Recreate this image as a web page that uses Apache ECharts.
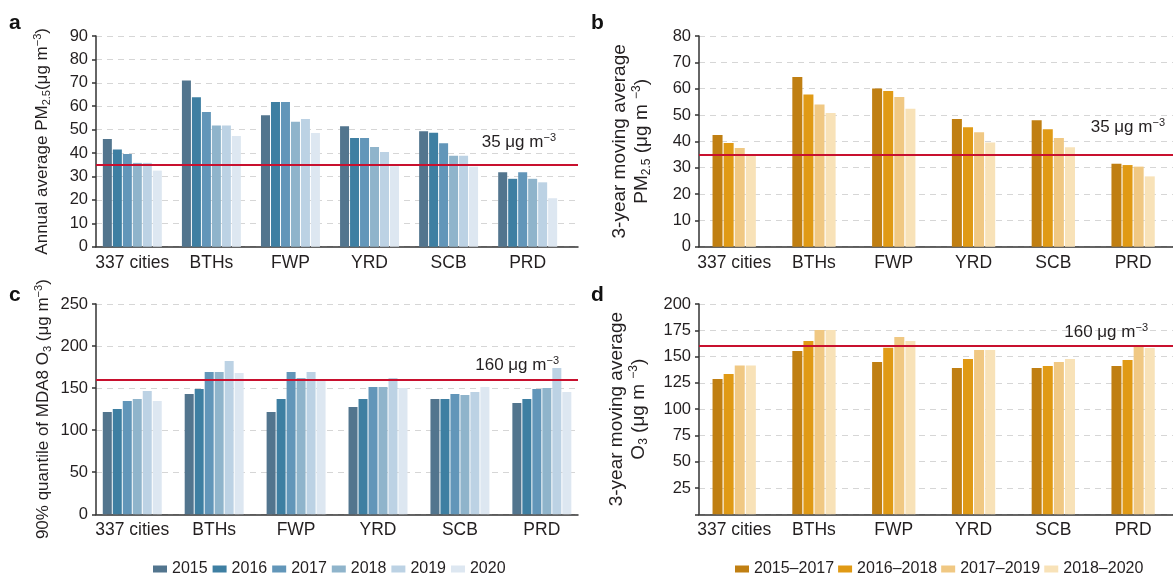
<!DOCTYPE html>
<html>
<head>
<meta charset="utf-8">
<script src="https://cdn.jsdelivr.net/npm/echarts@6/dist/echarts.min.js"></script>
<style>
html,body{margin:0;padding:0;background:#fff;}
#chart{width:1173px;height:575px;}
</style>
</head>
<body>
<div id="chart"></div>
<script>
// ---------- data ----------
const categories = ['337 cities', 'BTHs', 'FWP', 'YRD', 'SCB', 'PRD'];
const years = ['2015', '2016', '2017', '2018', '2019', '2020'];
const periods = ['2015–2017', '2016–2018', '2017–2019', '2018–2020'];

// Panel a: annual average PM2.5 (per year, per region)
const pmAnnual2015 = [46.0, 71.0, 56.1, 51.4, 49.3, 31.8];
const pmAnnual2016 = [41.5, 63.8, 61.8, 46.4, 48.7, 29.0];
const pmAnnual2017 = [39.6, 57.5, 61.8, 46.4, 44.2, 31.8];
const pmAnnual2018 = [35.8, 51.8, 53.4, 42.6, 38.9, 29.0];
const pmAnnual2019 = [35.8, 51.8, 54.5, 40.4, 38.9, 27.5];
const pmAnnual2020 = [32.5, 47.3, 48.6, 34.4, 34.2, 20.7];

// Panel b: 3-year moving average PM2.5
const pmMoving1517 = [42.4, 64.4, 60.1, 48.5, 48.0, 31.5];
const pmMoving1618 = [39.4, 57.8, 59.1, 45.4, 44.6, 31.0];
const pmMoving1719 = [37.5, 54.0, 56.8, 43.5, 41.3, 30.4];
const pmMoving1820 = [35.2, 50.8, 52.4, 39.6, 37.8, 26.7];

// Panel c: 90% quantile of MDA8 O3
const o3Annual2015 = [121.6, 143.0, 121.6, 127.6, 137.1, 132.3];
const o3Annual2016 = [125.2, 149.0, 137.1, 137.1, 137.1, 137.1];
const o3Annual2017 = [134.7, 169.2, 169.2, 151.3, 143.0, 149.0];
const o3Annual2018 = [137.1, 169.2, 162.0, 151.3, 141.8, 150.2];
const o3Annual2019 = [146.6, 182.3, 169.2, 162.0, 145.4, 174.0];
const o3Annual2020 = [134.7, 168.0, 159.7, 150.2, 151.3, 145.4];

// Panel d: 3-year moving average O3
const o3Moving1517 = [128.7, 155.3, 144.8, 139.1, 139.1, 141.0];
const o3Moving1618 = [133.4, 164.8, 158.5, 147.7, 141.0, 146.8];
const o3Moving1719 = [141.4, 175.3, 168.6, 156.3, 144.8, 160.0];
const o3Moving1820 = [141.4, 175.3, 164.8, 156.3, 147.7, 158.2];

const pmLimit = 35;
const o3Limit = 160;

// ---------- styles ----------
const FONT = 'Liberation Sans, Arial, Helvetica, sans-serif';
const TXT = '#231f20';
const blues = ['#52758e', '#3e7fa2', '#6296b9', '#8fb4cb', '#bcd2e4', '#dde7f1'];
const oranges = ['#c07f12', '#e09a15', '#f0c883', '#f8e2b8'];
const RED = '#c8102e';

function richName(size) {
  return {
    n: {fontSize: size, fontFamily: FONT, color: TXT, align: 'center', lineHeight: size + 3},
    sub: {fontSize: Math.round(size * 0.62), fontFamily: FONT, color: TXT, verticalAlign: 'bottom', lineHeight: size - 2},
    sup: {fontSize: Math.round(size * 0.62), fontFamily: FONT, color: TXT, verticalAlign: 'top', lineHeight: size + 3}
  };
}

const panels = [
  {gridA: {left: 96, right: 595, top: 36, bottom: 328.3}, gridB: {left: 92.8, right: 605.8, top: 36, bottom: 328.3},
   min: 0, max: 90, interval: 10, hideZero: false,
   name: '{n|Annual average PM}{sub|2.5}{n|(μg m}{sup|−3}{n|)}', nameSize: 17, nameGap: 44,
   names: years, colors: blues, values: [pmAnnual2015, pmAnnual2016, pmAnnual2017, pmAnnual2018, pmAnnual2019, pmAnnual2020],
   barWidth: 9, limit: pmLimit, limitDist: [22, 12]},
  {gridA: {left: 699, right: 0, top: 36, bottom: 328.3}, gridB: {left: 694.3, right: -7, top: 36, bottom: 328.3},
   min: 0, max: 80, interval: 10, hideZero: false,
   name: '{n|3-year moving average}\n{n|PM}{sub|2.5}{n| (μg m }{sup|−3}{n|)}', nameSize: 19, nameGap: 46,
   names: periods, colors: oranges, values: [pmMoving1517, pmMoving1618, pmMoving1719, pmMoving1820],
   barWidth: 10, limit: pmLimit, limitDist: [8, 17]},
  {gridA: {left: 96, right: 595, top: 304, bottom: 60.7}, gridB: {left: 91.3, right: 590.2, top: 304, bottom: 60.7},
   min: 0, max: 250, interval: 50, hideZero: false,
   name: '{n|90% quantile of MDA8 O}{sub|3}{n| (μg m}{sup|−3}{n|)}', nameSize: 17, nameGap: 43,
   names: years, colors: blues, values: [o3Annual2015, o3Annual2016, o3Annual2017, o3Annual2018, o3Annual2019, o3Annual2020],
   barWidth: 9, limit: o3Limit, limitDist: [19, 4]},
  {gridA: {left: 699, right: 0, top: 304, bottom: 60.7}, gridB: {left: 694.3, right: -11.7, top: 304, bottom: 60.7},
   min: 0, max: 200, interval: 25, hideZero: true,
   name: '{n|3-year moving average}\n{n|O}{sub|3}{n| (μg m }{sup|−3}{n|)}', nameSize: 19, nameGap: 49,
   names: periods, colors: oranges, values: [o3Moving1517, o3Moving1618, o3Moving1719, o3Moving1820],
   barWidth: 10, limit: o3Limit, limitDist: [25, 4]}
];

const grid = [], xAxis = [], yAxis = [], series = [];
panels.forEach((p, i) => {
  const ga = grid.length;
  grid.push(p.gridA);
  grid.push(p.gridB);
  // axis grid
  xAxis.push({gridIndex: ga, type: 'value', min: 0, max: 1,
    axisLine: {show: true, lineStyle: {color: '#333', width: 1.5}},
    axisTick: {show: false}, axisLabel: {show: false}, splitLine: {show: false}});
  yAxis.push({gridIndex: ga, type: 'value', min: p.min, max: p.max, interval: p.interval,
    axisLine: {show: true, lineStyle: {color: '#333', width: 1.5}},
    axisTick: {show: true, length: 4, lineStyle: {color: '#333', width: 1.5}},
    axisLabel: {fontSize: 16.5, fontFamily: FONT, color: TXT, margin: 8,
      formatter: v => (p.hideZero && v === 0) ? '' : String(v)},
    splitLine: {show: true, lineStyle: {color: '#d6d6d6', width: 1, type: [6, 5]}},
    name: p.name, nameLocation: 'middle', nameRotate: 90, nameGap: p.nameGap,
    nameTextStyle: {rich: richName(p.nameSize), fontFamily: FONT, fontSize: p.nameSize, color: TXT}});
  // bar grid
  xAxis.push({gridIndex: ga + 1, type: 'category', data: categories, boundaryGap: true,
    axisLine: {show: false}, axisTick: {show: false},
    axisLabel: {fontSize: 17.5, fontFamily: FONT, color: TXT, margin: 7, interval: 0}});
  yAxis.push({gridIndex: ga + 1, type: 'value', min: p.min, max: p.max, interval: p.interval, show: false});

  p.values.forEach((vals, k) => {
    series.push({type: 'bar', name: p.names[k], xAxisIndex: ga + 1, yAxisIndex: ga + 1,
      data: vals, barWidth: p.barWidth, barGap: '11%',
      itemStyle: {color: p.colors[k]}, z: 2});
  });
  series.push({type: 'line', xAxisIndex: ga, yAxisIndex: ga, data: [], z: 10,
    markLine: {silent: true, symbol: 'none', animation: false,
      lineStyle: {color: RED, width: 2, type: 'solid'},
      label: {show: true, position: 'insideEndTop', distance: p.limitDist,
        formatter: '{n|' + p.limit + ' μg m}{sup|−3}',
        rich: {n: {fontSize: 17, fontFamily: FONT, color: TXT},
               sup: {fontSize: 11, fontFamily: FONT, color: TXT, verticalAlign: 'top', lineHeight: 20}}},
      data: [{yAxis: p.limit}]}});
});

const letterStyle = {font: 'bold 21px ' + FONT, fill: '#111'};
const option = {
  animation: false,
  backgroundColor: '#fff',
  grid: grid, xAxis: xAxis, yAxis: yAxis, series: series,
  legend: [
    {data: years, left: 148, top: 556, itemWidth: 14, itemHeight: 7, icon: 'rect', itemGap: 5,
     textStyle: {fontSize: 16, fontFamily: FONT, color: TXT}, selectedMode: false},
    {data: periods, left: 730, top: 556, itemWidth: 14, itemHeight: 7, icon: 'rect', itemGap: 4,
     textStyle: {fontSize: 16, fontFamily: FONT, color: TXT}, selectedMode: false}
  ],
  graphic: [
    {type: 'text', left: 9, top: 13, style: Object.assign({text: 'a'}, letterStyle)},
    {type: 'text', left: 591, top: 13, style: Object.assign({text: 'b'}, letterStyle)},
    {type: 'text', left: 9, top: 285, style: Object.assign({text: 'c'}, letterStyle)},
    {type: 'text', left: 591, top: 285, style: Object.assign({text: 'd'}, letterStyle)}
  ]
};

const chart = echarts.init(document.getElementById('chart'), null, {renderer: 'canvas'});
chart.setOption(option);
</script>
</body>
</html>
